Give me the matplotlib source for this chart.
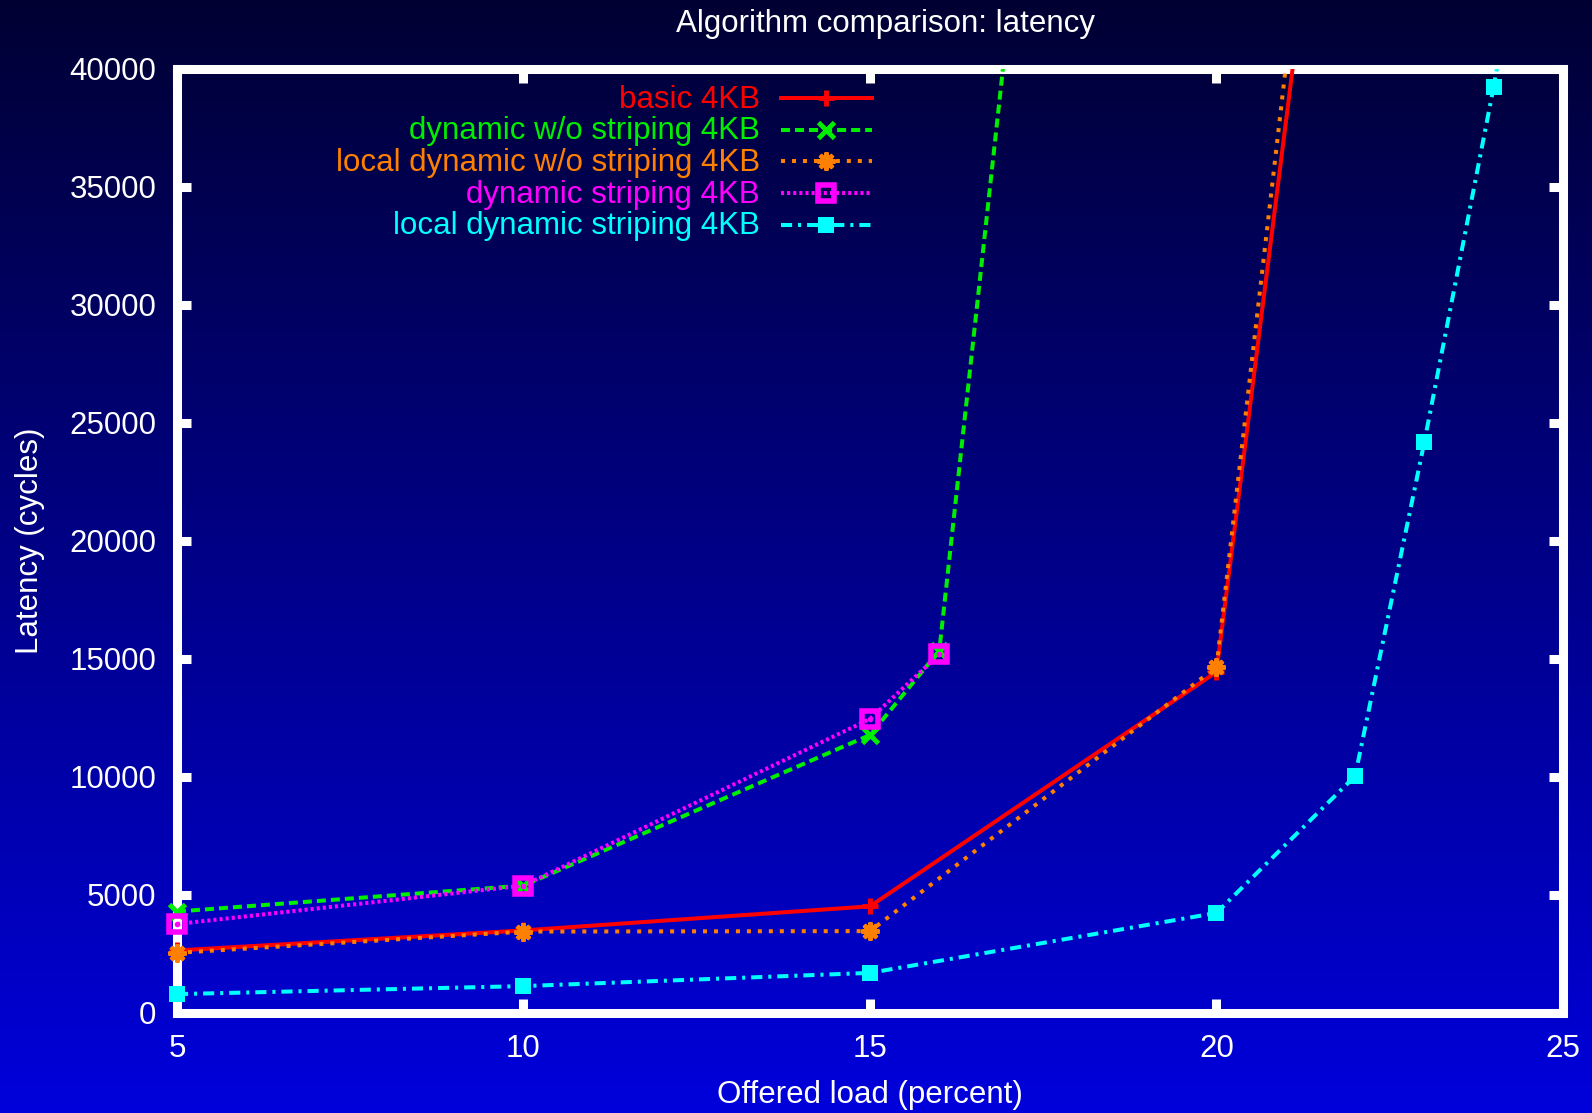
import numpy as np
import matplotlib.pyplot as plt
from matplotlib.colors import LinearSegmentedColormap

plt.rcParams['font.family'] = ['Liberation Sans', 'DejaVu Sans']
plt.rcParams['lines.scale_dashes'] = False

# offered load (percent) vs latency (cycles) for each algorithm
load_basic = [5, 10, 15, 20, 22]
lat_basic = [2650, 3500, 4520, 14450, 61000]

load_dyn = [5, 10, 15, 16, 17]
lat_dyn = [4300, 5400, 11780, 15350, 42200]

load_local_dyn = [5, 10, 15, 20, 22]
lat_local_dyn = [2550, 3450, 3470, 14660, 65500]

load_dyn_str = [5, 10, 15, 16]
lat_dyn_str = [3770, 5400, 12460, 15200]

load_local_str = [5, 10, 15, 20, 22, 23, 24, 25]
lat_local_str = [800, 1140, 1700, 4240, 10040, 24200, 39250, 55600]

labels = ['basic 4KB', 'dynamic w/o striping 4KB', 'local dynamic w/o striping 4KB',
          'dynamic striping 4KB', 'local dynamic striping 4KB']

x_ticks = [5, 10, 15, 20, 25]
y_ticks = list(range(0, 40001, 5000))

YMAX = 40000

series = [
    (load_basic, lat_basic, dict(color='#ff0000', ls='-'),
     dict(marker='+', ms=12, mew=3.5, mfc='none')),
    (load_dyn, lat_dyn, dict(color='#00ee00', dashes=(6.5, 3.6)),
     dict(marker='x', ms=11, mew=3.5, mfc='none')),
    (load_local_dyn, lat_local_dyn, dict(color='#ff8000', dashes=(2.9, 5.0)),
     dict(marker=(8, 2, 0), ms=13, mew=3, mfc='none')),
    (load_dyn_str, lat_dyn_str, dict(color='#ff00ff', dashes=(2.2, 2.2)),
     dict(marker='s', ms=12, mew=4, mfc='none')),
    (load_local_str, lat_local_str, dict(color='#00ffff', dashes=(8, 4.3, 2.2, 4.3)),
     dict(marker='s', ms=11, mew=0)),
]

fig = plt.figure(figsize=(15.92, 11.13), dpi=100)

# vertical background gradient, dark navy at the top to bright blue at the bottom
bg = fig.add_axes([0, 0, 1, 1], zorder=-10)
grad = np.linspace(0, 1, 256).reshape(-1, 1)
cmap = LinearSegmentedColormap.from_list('bg', [(0, 0, 0.86), (0, 0, 0.2)])
bg.imshow(grad, aspect='auto', cmap=cmap, origin='lower', extent=[0, 1, 0, 1])
bg.axis('off')

ax = fig.add_axes([0.11118, 0.08985, 0.87060, 0.84816], facecolor='none')

for xs, ys, lstyle, mstyle in series:
    col = lstyle['color']
    ax.plot(xs, ys, lw=2.9, solid_capstyle='butt', dash_capstyle='butt',
            zorder=3, **lstyle)
    pts = [(x, y) for x, y in zip(xs, ys) if y <= YMAX]
    px, py = zip(*pts)
    mkw = dict(mstyle)
    if mkw.get('mfc') is None:
        mkw['mfc'] = col
    ax.plot(px, py, ls='none', mec=col, clip_on=False, zorder=4, **mkw)
    if mstyle['marker'] == 's' and mstyle.get('mfc') == 'none':
        # small dot in the middle of the open squares
        ax.plot(px, py, ls='none', marker='o', ms=3, color=col,
                clip_on=False, zorder=4)

ax.set_xlim(5, 25)
ax.set_ylim(0, YMAX)
ax.set_xticks(x_ticks)
ax.set_yticks(y_ticks)
ax.tick_params(direction='in', length=10, width=6.5, color='white',
               labelcolor='white', labelsize=22.5, pad=15,
               top=True, right=True)
for sp in ax.spines.values():
    sp.set_color('white')
    sp.set_linewidth(6.5)
    sp.set_zorder(2.5)

# key in the upper left, text right-aligned before each sample
x_txt, x0, x1 = 0.4206, 0.4358, 0.5014
row0, step = 0.9693, 0.0336
for i, (lab, (xs, ys, lstyle, mstyle)) in enumerate(zip(labels, series)):
    col = lstyle['color']
    y = row0 - i * step
    ax.text(x_txt, y - 0.0101, lab, color=col, fontsize=22.5,
            ha='right', va='baseline', transform=ax.transAxes)
    ax.plot([x0, x1], [y, y], lw=2.9, transform=ax.transAxes, clip_on=False,
            dash_capstyle='butt', zorder=3, **lstyle)
    mkw = dict(mstyle)
    if mkw.get('mfc') is None:
        mkw['mfc'] = col
    ax.plot([(x0 + x1) / 2], [y], ls='none', mec=col, transform=ax.transAxes,
            clip_on=False, zorder=4, **mkw)

fig.text(886 / 1592, 1 - 32 / 1113, 'Algorithm comparison: latency',
         color='white', fontsize=22.5, ha='center', va='baseline')
fig.text(870 / 1592, 1 - 1103 / 1113, 'Offered load (percent)',
         color='white', fontsize=22.5, ha='center', va='baseline')
fig.text(38 / 1592, 1 - 541 / 1113, 'Latency (cycles)', color='white',
         fontsize=22.5, ha='center', va='baseline', rotation=90,
         rotation_mode='anchor')

fig.savefig('out.png', dpi=100)
